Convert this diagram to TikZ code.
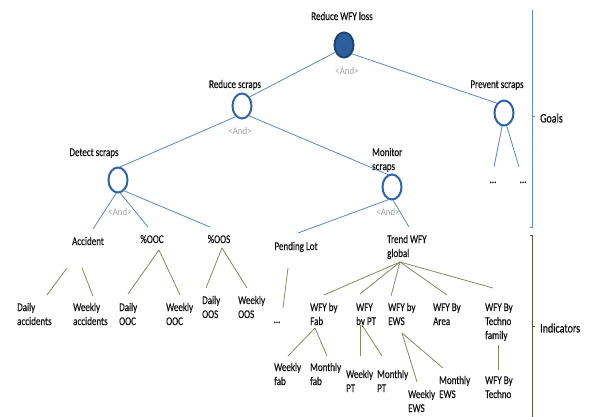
\documentclass[tikz,border=0pt]{standalone}
\usepackage{fontspec}
\setmainfont{Carlito}[Scale=1.3, FakeStretch=0.77, FakeBold=0.5]
\newfontfamily\andfont{Carlito}[Scale=1.15, FakeStretch=0.87]
\usetikzlibrary{shapes.geometric}
\definecolor{gblue}{HTML}{5B87C2}
\definecolor{cblue}{HTML}{2E64A8}
\definecolor{cfill}{HTML}{2D5E9E}
\definecolor{cdark}{HTML}{1F4473}
\definecolor{oliveline}{HTML}{808C5E}
\definecolor{bracketol}{HTML}{5A553A}
\definecolor{andgray}{HTML}{A0A0A0}
\definecolor{txt}{HTML}{111111}
\begin{document}
\begin{tikzpicture}[x=1pt,y=-1pt,
  goal/.style={ellipse, draw=cblue, line width=2pt, minimum width=19pt, minimum height=25pt, inner sep=0pt},
  goalfill/.style={goal, fill=cfill, draw=cdark},
  lbl/.style={font=\fontsize{9}{14}\selectfont, text=txt, inner sep=0pt, align=left},
  clbl/.style={lbl, anchor=base},
  llbl/.style={lbl, anchor=base west},
  andl/.style={font=\andfont\fontsize{8.8}{9}\selectfont, text=andgray, inner sep=0pt, anchor=base},
  bl/.style={draw=gblue, line width=0.8pt},
  ol/.style={draw=oliveline, line width=0.8pt},
  side/.style={font=\fontsize{10}{12}\selectfont, text=txt, inner sep=0pt, anchor=west}]
\useasboundingbox (0,0) rectangle (590,416);

% goal circles
\node[goalfill] (rwl) at (344,45) {};
\node[goal] (rs) at (242,106) {};
\node[goal] (ps) at (504,113) {};
\node[goal] (ds) at (118,180) {};
\node[goal] (ms) at (392,187) {};

% goal labels
\node[clbl] (rwlT) at (342,20) {Reduce WFY loss};
\node[clbl] (rsT) at (235,88) {Reduce scraps};
\node[clbl] (psT) at (497,88) {Prevent scraps};
\node[clbl] (dsT) at (94,156) {Detect scraps};
\node[llbl] (msT) at (372,170) {Monitor\\scraps};
\node[andl] (a1) at (347,74) {<And>};
\node[andl] (a2) at (240,134) {<And>};
\node[andl] (a3) at (120,215) {<And>};
\node[andl] (a4) at (388,215) {<And>};

% dots under prevent scraps
\node[clbl] (pd1) at (493,183) {...};
\node[clbl] (pd2) at (523,183) {...};
\coordinate (pd1in) at (494,167);
\coordinate (pd2in) at (519,167);

% level 3 labels
\node[clbl] (acc) at (88,245) {Accident};
\node[clbl] (ooc) at (152,243) {\%OOC};
\node[clbl] (oos) at (219,243) {\%OOS};
\node[clbl] (pl) at (296,250) {Pending Lot};
\node[llbl] (tw) at (387,257) {Trend WFY\\global};

\coordinate (accin) at (93,229);
\coordinate (oocin) at (148,227);
\coordinate (oosin) at (210,227);
\coordinate (plin) at (298,233);
\coordinate (twin) at (409,227);

% blue connectors
\draw[bl] (rwl.220) -- (rs.50);
\draw[bl] (rwl.312) -- (ps.126);
\draw[bl] (rs.239) -- (ds.80);
\draw[bl] (rs.306) -- (ms.108);
\draw[bl] (ps.262) -- (pd1in);
\draw[bl] (ps.282) -- (pd2in);
\draw[bl] (ds.262) -- (accin);
\draw[bl] (ds.280) -- (oocin);
\draw[bl] (ds.300) -- (oosin);
\draw[bl] (ms.254) -- (plin);
\draw[bl] (ms.275) -- (twin);

% leaves
\node[llbl] (dacc) at (17,325) {Daily\\accidents};
\node[llbl] (wacc) at (73,325) {Weekly\\accidents};
\node[llbl] (dooc) at (119,325) {Daily\\OOC};
\node[llbl] (wooc) at (166,325) {Weekly\\OOC};
\node[llbl] (doos) at (202,318) {Daily\\OOS};
\node[llbl] (woos) at (238,318) {Weekly\\OOS};
\node[clbl] (pld) at (277,323) {...};

\coordinate (accout1) at (67,268);
\coordinate (accout2) at (82,268);
\coordinate (oocout) at (159,250);
\coordinate (oosout) at (222,248);
\coordinate (dacci) at (47,295);
\coordinate (wacci) at (93,296);
\coordinate (dooci) at (128,294);
\coordinate (wooci) at (180,295);
\coordinate (doosi) at (206,288);
\coordinate (woosi) at (247,288);
\coordinate (plout) at (288,268);
\coordinate (pldi) at (283,308);

\draw[ol] (accout1) -- (dacci);
\draw[ol] (accout2) -- (wacci);
\draw[ol] (oocout) -- (dooci);
\draw[ol] (oocout) -- (wooci);
\draw[ol] (oosout) -- (doosi);
\draw[ol] (oosout) -- (woosi);
\draw[ol] (plout) -- (pldi);

% WFY breakdown
\coordinate (twout) at (400,262);
\node[llbl] (fab) at (310,325) {WFY by\\Fab};
\node[llbl] (pt) at (356,325) {WFY\\by PT};
\node[llbl] (ews) at (388,325) {WFY by\\EWS};
\node[llbl] (area) at (433,325) {WFY By\\Area};
\node[llbl] (techf) at (485,339) {WFY By\\Techno\\family};
\coordinate (fabi) at (324,295);
\coordinate (pti) at (360,294);
\coordinate (ewsi) at (391,296);
\coordinate (areai) at (447,295);
\coordinate (techfi) at (493,288);
\draw[ol] (twout) -- (fabi);
\draw[ol] (twout) -- (pti);
\draw[ol] (twout) -- (ewsi);
\draw[ol] (twout) -- (areai);
\draw[ol] (twout) -- (techfi);

\node[llbl] (wfab) at (274,385) {Weekly\\fab};
\node[llbl] (mfab) at (310,385) {Monthly\\fab};
\node[llbl] (wpt) at (346,392) {Weekly\\PT};
\node[llbl] (mpt) at (377,392) {Monthly\\PT};
\node[llbl] (wews) at (408,412) {Weekly\\EWS};
\node[llbl] (mews) at (439,398) {Monthly\\EWS};
\node[llbl] (tech) at (485,398) {WFY By\\Techno};

\coordinate (fabo) at (315,328);
\coordinate (wfabi) at (288,356);
\coordinate (mfabi) at (327,356);
\coordinate (pto1) at (360,325);
\coordinate (pto2) at (362,325);
\coordinate (wpti) at (360,356);
\coordinate (mpti) at (382,356);
\coordinate (ewso) at (402,333);
\coordinate (wewsi) at (417,382);
\coordinate (mewsi) at (443,368);
\coordinate (techfo) at (498,345);
\coordinate (techi) at (498,370);
\draw[ol] (fabo) -- (wfabi);
\draw[ol] (fabo) -- (mfabi);
\draw[ol] (pto1) -- (wpti);
\draw[ol] (pto2) -- (mpti);
\draw[ol] (ewso) -- (wewsi);
\draw[ol] (ewso) -- (mewsi);
\draw[ol] (techfo) -- (techi);

% brackets
\coordinate (gtop) at (532,10);
\coordinate (gbot) at (532,227);
\coordinate (gmid) at (532,116);
\draw[draw=gblue, line width=0.9pt] (gtop) -- (gbot) -- ++(-2,0);
\draw[draw=gblue, line width=0.9pt] (gmid) -- ++(3,0);
\node[side] (goals) at (540,118) {Goals};

\coordinate (itop) at (532,235);
\coordinate (ibot) at (532,418);
\coordinate (imid) at (532,326);
\draw[draw=bracketol, line width=0.9pt] ([xshift=-2pt]itop) -- (itop) -- (ibot);
\draw[draw=bracketol, line width=0.9pt] (imid) -- ++(3,0);
\node[side] (ind) at (540,328) {Indicators};
\end{tikzpicture}
\end{document}
